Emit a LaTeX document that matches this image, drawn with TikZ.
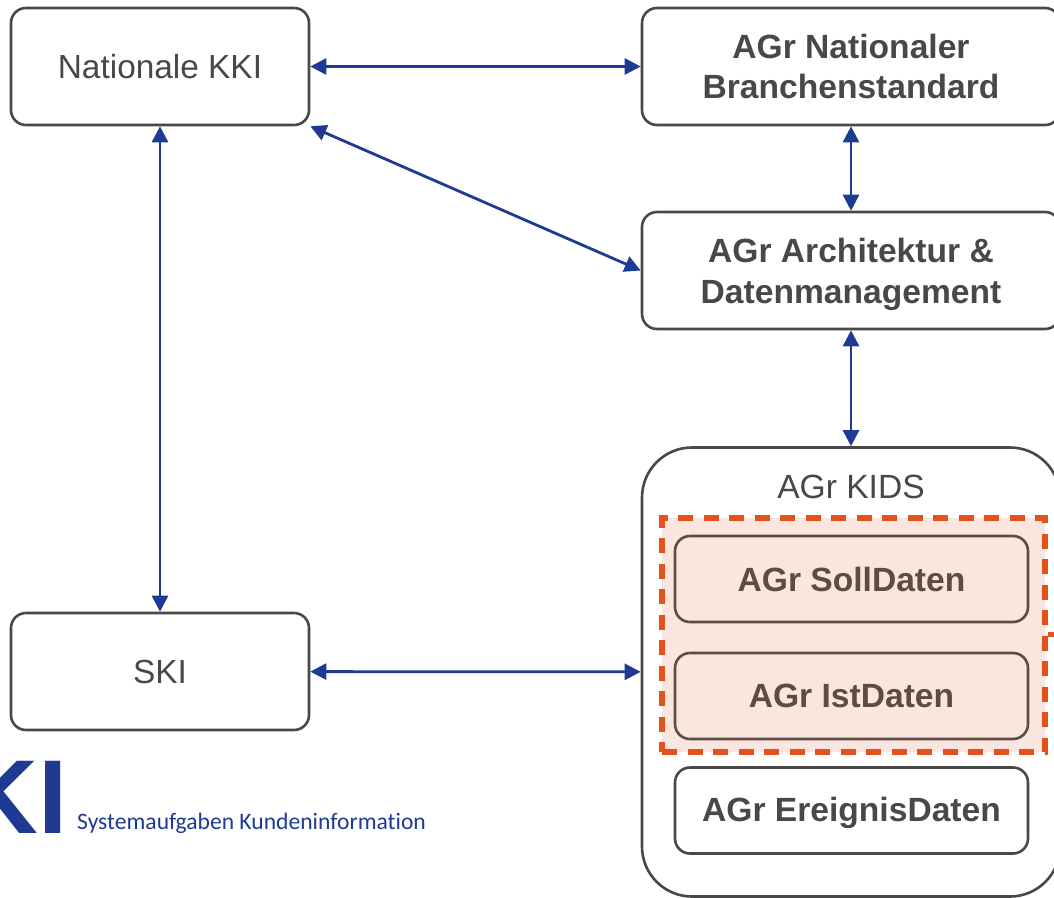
\documentclass[tikz,border=0pt]{standalone}
\usepackage{fontspec}
\setmainfont{Liberation Sans}
\newfontfamily\logofont[Ligatures=CommonOff]{Carlito}
\usetikzlibrary{arrows.meta, positioning}
\definecolor{agrgrey}{HTML}{484848}
\definecolor{agrbrown}{HTML}{5D4B44}
\definecolor{agrblue}{HTML}{1F3A93}
\definecolor{agrorange}{HTML}{E4501E}
\definecolor{agrpink}{HTML}{FBE5DF}

\begin{document}
\begin{tikzpicture}[x=1pt, y=1pt,
        box/.style={rectangle, rounded corners=15pt, draw=agrgrey, line width=2.6pt, text=agrgrey, align=center, font=\fontsize{33.4}{40}\selectfont, minimum width=298pt, minimum height=117pt},
        wgbox/.style={box, font=\fontsize{33.6}{40}\selectfont\bfseries, minimum width=418pt},
        innerbox/.style={box, font=\fontsize{33.6}{38}\selectfont\bfseries, minimum width=353pt, minimum height=86pt},
        datbox/.style={innerbox, draw=agrbrown, text=agrbrown, fill=agrpink},
        link/.style={{Triangle[length=16pt,width=16pt]}-{Triangle[length=16pt,width=16pt]}, draw=agrblue, line width=2.8pt}]
        \useasboundingbox (0,0) rectangle (1054,-897);
        % left column
        \node[box] (kki) at (160,-66.5) {Nationale KKI};
        \node[box] (ski) [below = 485.4pt of kki] {SKI};
        % right column
        \node[wgbox] (branche) at (851,-66.5) {AGr Nationaler\\Branchenstandard};
        \node[wgbox] (arch) [below = 84.4pt of branche] {AGr Architektur \&\\[1pt]\smash{Datenmanagement}};
        \node[box, minimum width=418pt, minimum height=449pt, rounded corners=50pt] (kids) [below = 115.9pt of arch] {};
        \node[text=agrgrey, font=\fontsize{33.6}{40}\selectfont] (kidstitle) at (851,-487) {AGr KIDS};
        % dashed frame and the groups in it
        \node[rectangle, draw=agrorange, fill=agrpink, line width=6.4pt, dash pattern=on 15pt off 10.5pt, minimum width=383pt, minimum height=234pt] (frame) at (853.5,-635) {};
        \coordinate (stub) at (1054,-634.5);
        \draw[draw=agrorange, line width=5pt] (frame.east |- stub) -- (stub);
        \node[datbox] (soll) at (851.5,-579) {AGr SollDaten};
        \node[datbox] (ist) [below = 28.4pt of soll] {AGr IstDaten};
        \node[innerbox, text depth=2pt] (ereignis) [below = 25.9pt of ist] {AGr EreignisDaten};
        % logo
        \node[text=agrblue, font=\fontsize{105}{105}\selectfont\bfseries, inner sep=0pt, anchor=base east] (logo) at (68,-833) {KI};
        \node[text=agrblue, font=\logofont\fontsize{23.6}{26}\selectfont, inner sep=0pt, anchor=base west] (logotext) at (77,-829) {Systemaufgaben Kundeninformation};
        % connectors
        \draw[link] (kki) -- (branche);
        \draw[link] (kki.south east) -- (arch.west);
        \draw[link] (kki) -- (ski);
        \draw[link] (branche) -- (arch);
        \draw[link] (arch) -- (kids);
        \draw[link] (ski) -- (kids);
    \end{tikzpicture}
\end{document}
